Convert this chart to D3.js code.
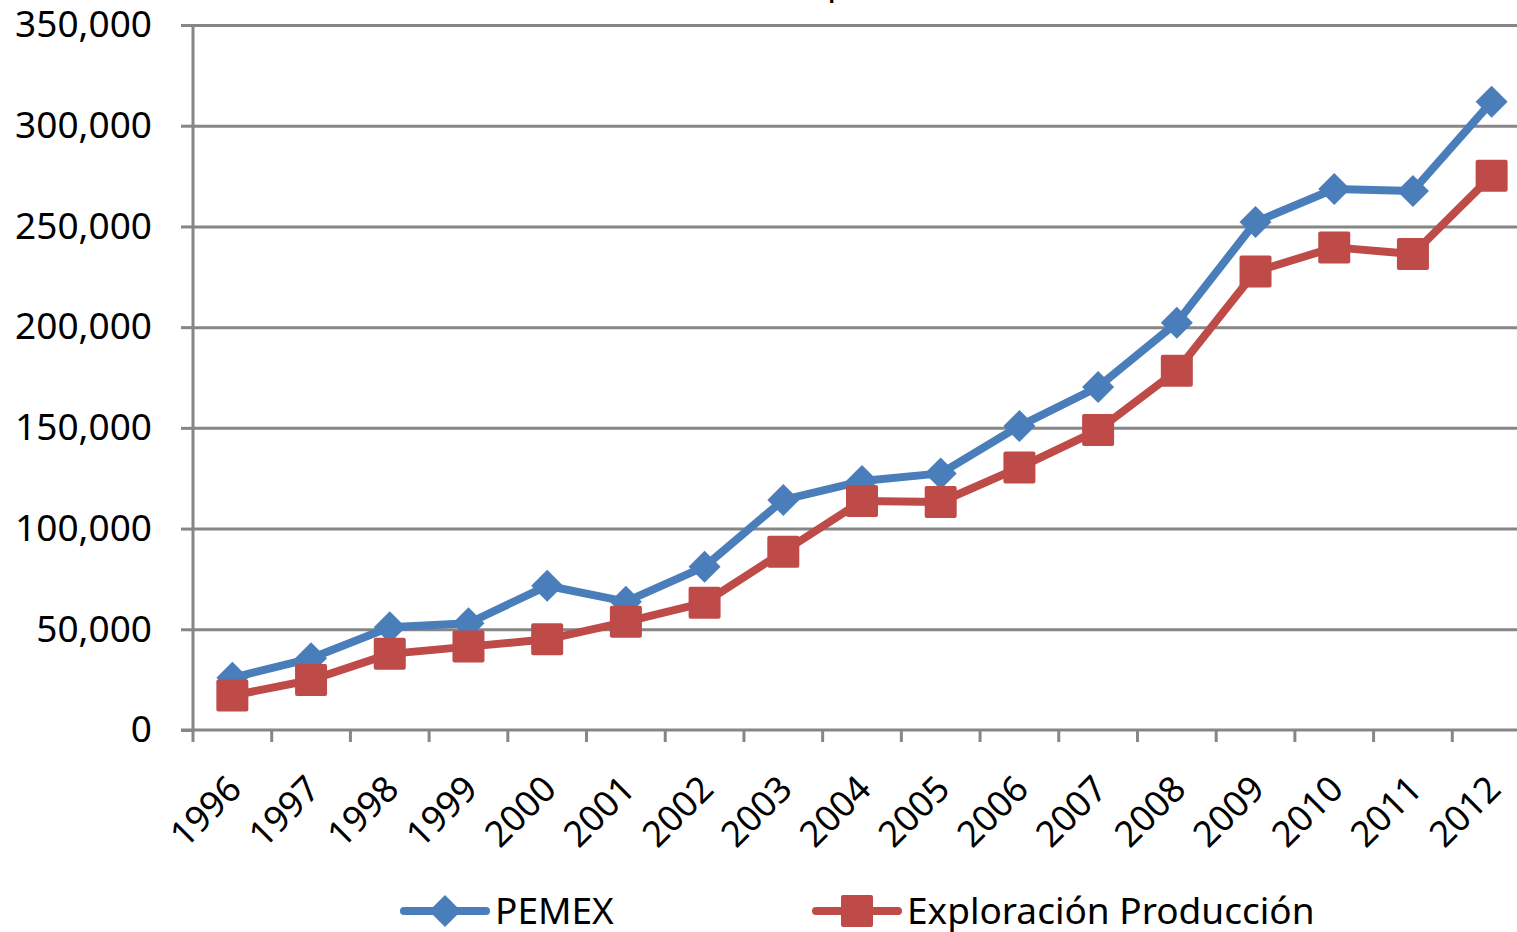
<!DOCTYPE html>
<html>
<head>
<meta charset="utf-8">
<script src="https://cdn.jsdelivr.net/npm/d3@7"></script>
<style>
  html, body { margin: 0; padding: 0; background: #fff; overflow: hidden; }
  svg { display: block; font-family: "Noto Sans", "Open Sans", sans-serif; }
</style>
</head>
<body>
<div id="chart"></div>
<script>
var WIDTH = 1517;
var HEIGHT = 932;

// data
var years = ["1996", "1997", "1998", "1999", "2000", "2001", "2002", "2003", "2004",
             "2005", "2006", "2007", "2008", "2009", "2010", "2011", "2012"];
var pemex = [25900, 35600, 51000, 53000, 71600, 63700, 81100, 114200, 123600,
             127400, 150900, 170300, 202200, 252200, 268600, 267600, 311900];
var exploracionProduccion = [17100, 24800, 37800, 41400, 45000, 53700, 63200, 88500, 113700,
                             113200, 130300, 148900, 178400, 227600, 239600, 236300, 275100];
var yTicks = [0, 50000, 100000, 150000, 200000, 250000, 300000, 350000];
var seriesNames = ["PEMEX", "Exploración Producción"];

var BLUE = "#4a7ebb";
var RED = "#be4b48";
var GRID = "#868686";

var margin = {left: 193, right: -14, top: 25, bottom: 202};

var svg = d3.select("#chart")
  .append("svg")
  .attr("width", WIDTH)
  .attr("height", HEIGHT);

var x = d3.scaleBand()
  .domain(years)
  .range([margin.left, WIDTH - margin.right]);

var y = d3.scaleLinear()
  .domain([0, 350000])
  .range([HEIGHT - margin.bottom, margin.top]);

// cropped title (only a descender is visible in the picture)
svg.append("text")
  .attr("class", "title")
  .attr("x", 838)
  .attr("y", -6)
  .attr("text-anchor", "middle")
  .attr("font-size", 36)
  .attr("fill", "#000")
  .text("p");

// gridlines
svg.append("g")
  .attr("class", "grid")
  .attr("transform", "translate(" + margin.left + ",0)")
  .call(d3.axisLeft(y).tickValues(yTicks.slice(1)).tickSize(-(x.range()[1] - margin.left)).tickFormat(""))
  .call(function(g) {
    g.select(".domain").remove();
    g.selectAll("line").attr("stroke", GRID).attr("stroke-width", 3);
  });

// y axis
svg.append("g")
  .attr("class", "y-axis")
  .attr("transform", "translate(" + margin.left + ",0)")
  .call(d3.axisLeft(y).tickValues(yTicks).tickSize(12).tickPadding(29).tickFormat(d3.format(",")))
  .call(function(g) {
    g.select(".domain").attr("stroke", GRID).attr("stroke-width", 3).attr("d", "M0," + y(350000) + "V" + y(0));
    g.selectAll("line").attr("stroke", GRID).attr("stroke-width", 3);
    g.selectAll("text")
      .attr("font-size", 37)
      .attr("fill", "#000")
      .attr("font-family", "Noto Sans");
  });

// x axis
var xAxis = svg.append("g")
  .attr("class", "x-axis");

xAxis.append("line")
  .attr("x1", margin.left - 12)
  .attr("x2", x.range()[1])
  .attr("y1", y(0))
  .attr("y2", y(0))
  .attr("stroke", GRID)
  .attr("stroke-width", 3);

xAxis.selectAll(".tick-mark")
  .data(years)
  .enter().append("line")
  .attr("class", "tick-mark")
  .attr("x1", function(d) { return x(d); })
  .attr("x2", function(d) { return x(d); })
  .attr("y1", y(0))
  .attr("y2", y(0) + 12)
  .attr("stroke", GRID)
  .attr("stroke-width", 3);

xAxis.selectAll(".tick-label")
  .data(years)
  .enter().append("text")
  .attr("class", "tick-label")
  .attr("transform", function(d) {
    return "translate(" + (x(d) + x.bandwidth() / 2 - 8) + "," + (y(0) + 42) + ") rotate(-45)";
  })
  .attr("text-anchor", "end")
  .attr("dy", "0.75em")
  .attr("font-size", 36)
  .attr("fill", "#000")
  .text(function(d) { return d; });

// lines
var line = d3.line()
  .x(function(d, i) { return x(years[i]) + x.bandwidth() / 2; })
  .y(function(d) { return y(d); });

var series = [
  {name: seriesNames[0], values: pemex, color: BLUE, shape: "diamond"},
  {name: seriesNames[1], values: exploracionProduccion, color: RED, shape: "square"}
];

var diamond = d3.symbol().type(d3.symbolSquare).size(512);

function drawMarker(g, shape, color, cx, cy) {
  if (shape === "diamond") {
    g.append("path")
      .attr("d", diamond())
      .attr("transform", "translate(" + cx + "," + cy + ") rotate(45)")
      .attr("fill", color);
  } else {
    g.append("rect")
      .attr("x", cx - 16)
      .attr("y", cy - 16)
      .attr("width", 32)
      .attr("height", 32)
      .attr("rx", 2)
      .attr("fill", color);
  }
}

series.forEach(function(s) {
  var g = svg.append("g").attr("class", "series");
  g.append("path")
    .datum(s.values)
    .attr("d", line)
    .attr("fill", "none")
    .attr("stroke", s.color)
    .attr("stroke-width", 8)
    .attr("stroke-linejoin", "round")
    .attr("stroke-linecap", "round");
  s.values.forEach(function(v, i) {
    drawMarker(g, s.shape, s.color, x(years[i]) + x.bandwidth() / 2, y(v));
  });
});

// legend
var legendPos = [{x: 400, tx: 495}, {x: 812, tx: 907}];
var legendY = 911;

series.forEach(function(s, i) {
  var g = svg.append("g").attr("class", "legend");
  g.append("line")
    .attr("x1", legendPos[i].x + 4)
    .attr("x2", legendPos[i].x + 86)
    .attr("y1", legendY)
    .attr("y2", legendY)
    .attr("stroke", s.color)
    .attr("stroke-width", 8)
    .attr("stroke-linecap", "round");
  drawMarker(g, s.shape, s.color, legendPos[i].x + 45, legendY);
  g.append("text")
    .attr("x", legendPos[i].tx)
    .attr("y", legendY)
    .attr("dy", "0.36em")
    .attr("font-size", 37)
    .attr("fill", "#000")
    .text(s.name);
});
</script>
</body>
</html>
